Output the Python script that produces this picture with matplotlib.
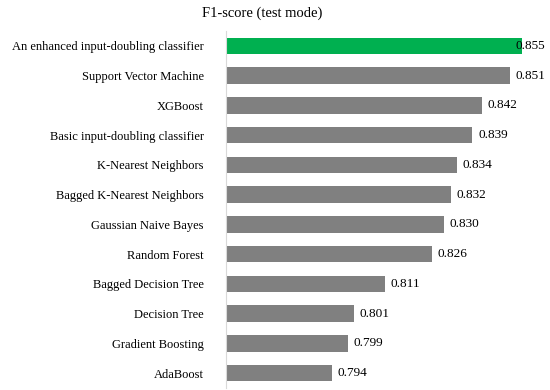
import matplotlib
matplotlib.use("Agg")
import matplotlib.pyplot as plt

models = [
    "An enhanced input-doubling classifier",
    "Support Vector Machine",
    "XGBoost",
    "Basic input-doubling classifier",
    "K-Nearest Neighbors",
    "Bagged K-Nearest Neighbors",
    "Gaussian Naive Bayes",
    "Random Forest",
    "Bagged Decision Tree",
    "Decision Tree",
    "Gradient Boosting",
    "AdaBoost",
]
f1_scores = [0.855, 0.851, 0.842, 0.839, 0.834, 0.832, 0.830, 0.826, 0.811, 0.801, 0.799, 0.794]
title = "F1-score (test mode)"

plt.rcParams['font.family'] = ['Liberation Serif', 'DejaVu Serif']

fig = plt.figure(figsize=(5.5, 3.9), dpi=100)
ax = fig.add_axes([226/550, 1 - 388/390, 312/550, (388-31)/390])

colors = ["#00B050"] + ["#808080"] * (len(models) - 1)
ypos = list(range(len(models)))
ax.barh(ypos, f1_scores, height=0.55, color=colors, left=0)
ax.set_xlim(0.76, 0.86)
ax.set_ylim(len(models) - 0.5, -0.5)
ax.set_yticks(ypos)
ax.set_yticklabels(models, fontsize=9)
ax.tick_params(axis='y', length=0, pad=16)
ax.set_xticks([])
for s in ['top', 'right', 'bottom']:
    ax.spines[s].set_visible(False)
ax.spines['left'].set_color('#D9D9D9')
ax.spines['left'].set_linewidth(0.8)

for i, v in enumerate(f1_scores):
    dx = -5 if i == 0 else 4
    ax.annotate(f"{v:.3f}", (v, i), xytext=(dx, 0), textcoords='offset points',
                va='center', ha='left', fontsize=9.5, color='#000000')

fig.text(262/550, 1 - 13/390, title, ha='center', va='center', fontsize=10.5)

fig.savefig("out.png", dpi=100)
